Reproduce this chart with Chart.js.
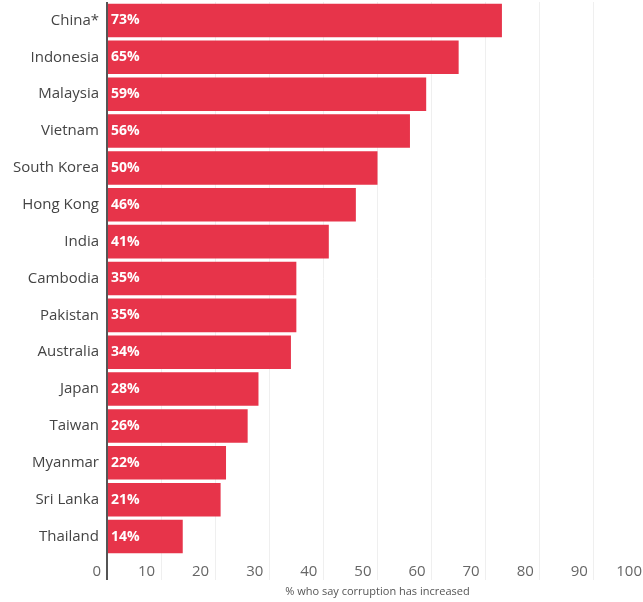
<!DOCTYPE html>
<html>
<head>
<meta charset="utf-8">
<script src="https://cdn.jsdelivr.net/npm/chart.js@4"></script>
<style>
  html, body { margin: 0; padding: 0; background: #fff; overflow: hidden; }
  #wrap { width: 660px; height: 602px; position: relative; }
</style>
</head>
<body>
<div id="wrap"><canvas id="corruptionChart"></canvas></div>
<script>
const countries = ["China*", "Indonesia", "Malaysia", "Vietnam", "South Korea", "Hong Kong", "India",
  "Cambodia", "Pakistan", "Australia", "Japan", "Taiwan", "Myanmar", "Sri Lanka", "Thailand"];
const increased = [73, 65, 59, 56, 50, 46, 41, 35, 35, 34, 28, 26, 22, 21, 14];
const xTicks = [0, 10, 20, 30, 40, 50, 60, 70, 80, 90, 100];

const FONT = "'Open Sans', 'Noto Sans', sans-serif";

// white percentage labels at the start of each bar
const barLabels = {
  id: 'barLabels',
  afterDatasetsDraw(chart) {
    const ctx = chart.ctx;
    const meta = chart.getDatasetMeta(0);
    ctx.save();
    ctx.fillStyle = '#fff';
    ctx.font = "bold 14px " + FONT;
    ctx.textAlign = 'left';
    ctx.textBaseline = 'middle';
    meta.data.forEach((bar, i) => {
      ctx.fillText(increased[i] + '%', bar.base + 3, bar.y);
    });
    ctx.restore();
  }
};

new Chart(document.getElementById('corruptionChart').getContext('2d'), {
  type: 'bar',
  data: {
    labels: countries,
    datasets: [{
      data: increased,
      backgroundColor: '#e7344a',
      borderWidth: 0,
      barPercentage: 0.91,
      categoryPercentage: 1
    }]
  },
  options: {
    indexAxis: 'y',
    responsive: true,
    maintainAspectRatio: false,
    animation: false,
    layout: { padding: { top: 2, right: 12, left: 0, bottom: 0 } },
    plugins: {
      legend: { display: false },
      tooltip: { enabled: false }
    },
    scales: {
      x: {
        min: 0,
        max: 100,
        afterBuildTicks: axis => { axis.ticks = xTicks.map(v => ({ value: v })); },
        afterFit: axis => { axis.height = 47; },
        border: { display: false },
        grid: {
          color: c => (c.tick && c.tick.value === 0) ? '#555' : '#efefef',
          lineWidth: c => (c.tick && c.tick.value === 0) ? 2 : 1,
          tickLength: 25
        },
        ticks: {
          align: 'end',
          labelOffset: -6,
          padding: -17,
          color: '#666',
          font: { family: FONT, size: 15 }
        },
        title: {
          display: true,
          text: '% who say corruption has increased',
          color: '#555',
          font: { family: FONT, size: 11 },
          padding: { top: 4, bottom: 4 }
        }
      },
      y: {
        border: { display: false },
        grid: { display: false, drawTicks: false },
        afterFit: axis => {
          axis.width = 107;
          axis.paddingTop = 0;
          axis.paddingBottom = 0;
        },
        ticks: {
          padding: 8,
          color: '#444',
          font: { family: FONT, size: 15 }
        }
      }
    }
  },
  plugins: [barLabels]
});
</script>
</body>
</html>
